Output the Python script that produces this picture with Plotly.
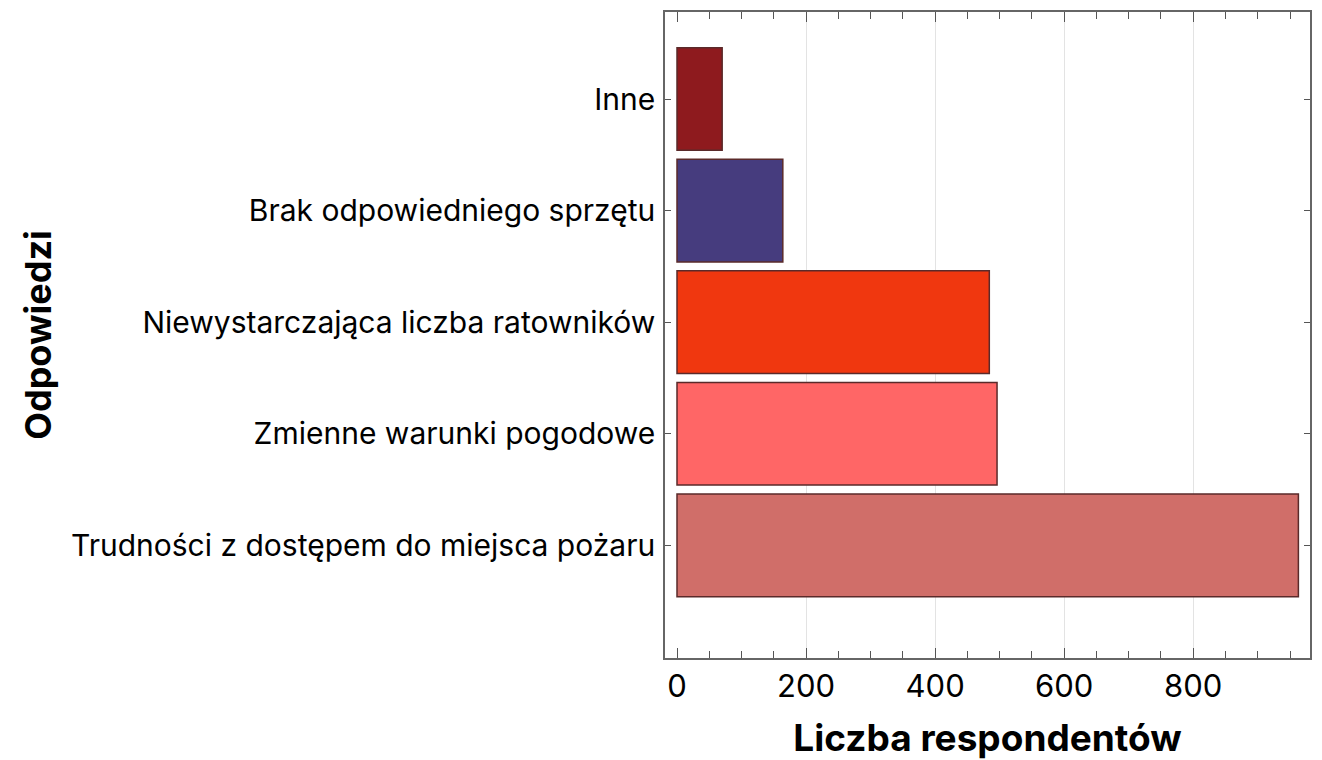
import plotly.graph_objects as go

categories = [
    "Trudności z dostępem do miejsca pożaru",
    "Zmienne warunki pogodowe",
    "Niewystarczająca liczba ratowników",
    "Brak odpowiedniego sprzętu",
    "Inne",
]
values = [963, 496, 484, 164, 70]
colors = ["#D06E69", "#FF6666", "#F0370F", "#463C7E", "#8E1A1E"]

x_title = "Liczba respondentów"
y_title = "Odpowiedzi"
x_ticks = [0, 200, 400, 600, 800]

FONT = "Inter"

fig = go.Figure(
    go.Bar(
        x=values,
        y=categories,
        orientation="h",
        marker=dict(color=colors, line=dict(color="#5A2A2A", width=1.5)),
        width=0.92,
    )
)

fig.update_layout(
    width=1314,
    height=752,
    paper_bgcolor="white",
    plot_bgcolor="white",
    margin=dict(l=657, r=12, t=2, b=102),
    showlegend=False,
    font=dict(family=FONT, color="black"),
)

fig.update_xaxes(
    range=[-18.6, 981],
    tickvals=x_ticks,
    ticks="inside",
    ticklen=10,
    tickwidth=1.2,
    tickcolor="#555555",
    tickfont=dict(family=FONT, size=31, color="black"),
    showgrid=True,
    gridcolor="#E3E3E3",
    gridwidth=1,
    zeroline=True,
    zerolinecolor="rgba(0,0,0,0)",
    showline=True,
    linecolor="#666666",
    linewidth=1.5,
    mirror="allticks",
    minor=dict(dtick=50, tick0=0, ticks="inside", ticklen=7, tickcolor="#555555", showgrid=False),
    title=dict(text=x_title, font=dict(family=FONT, size=37, color="black", weight="bold"), standoff=24),
)

fig.update_yaxes(
    categoryorder="array",
    categoryarray=categories,
    range=[-1.01, 4.78],
    ticks="inside",
    ticklen=6,
    tickwidth=1.2,
    tickcolor="#555555",
    tickfont=dict(family=FONT, size=30, color="black"),
    showgrid=False,
    zeroline=False,
    showline=True,
    linecolor="#666666",
    linewidth=1.5,
    mirror="allticks",
    ticklabelstandoff=2,
    title=dict(text=y_title, font=dict(family=FONT, size=36, color="black", weight="bold"), standoff=8),
)

fig.write_html("out.html")
